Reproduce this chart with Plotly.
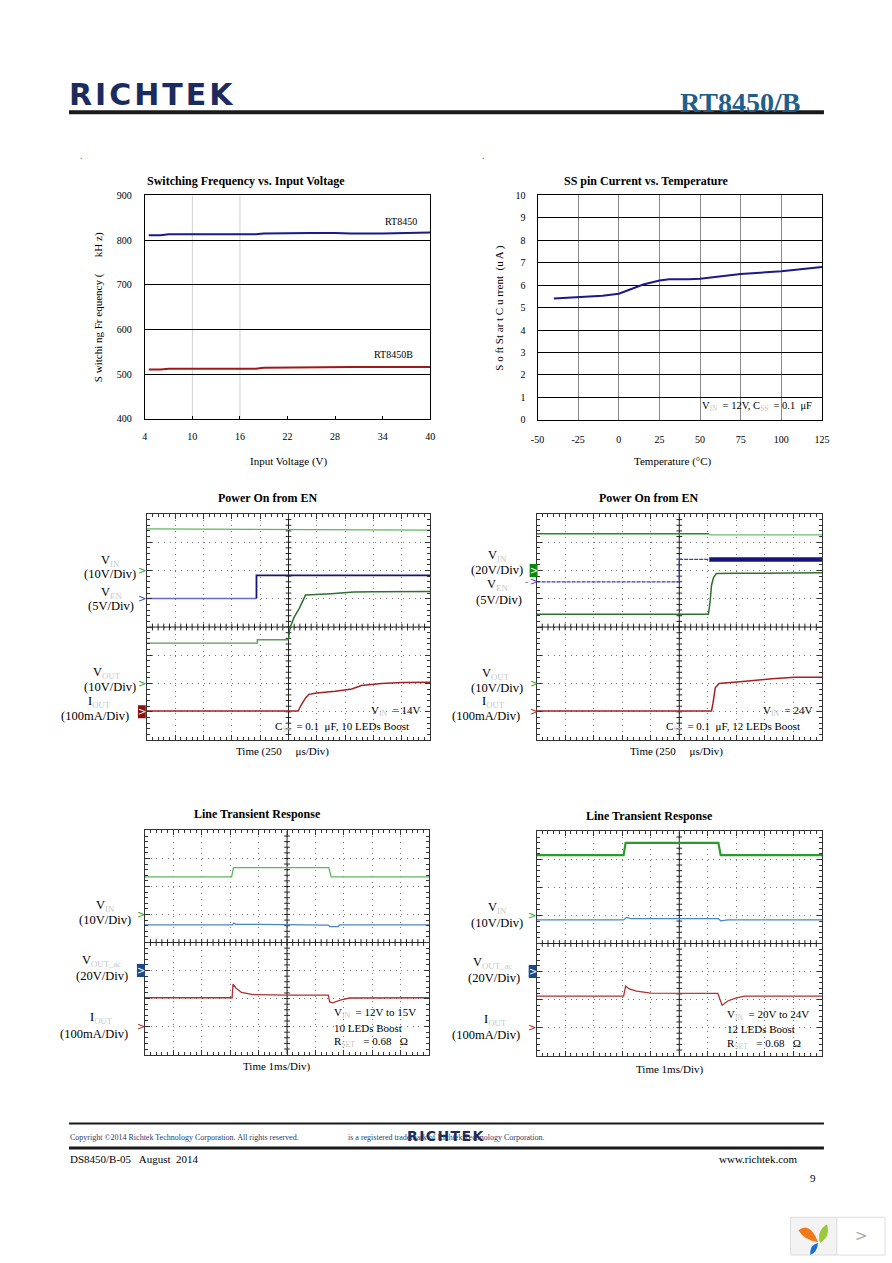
import plotly.graph_objects as go

W, H = 892, 1263
SERIF = "Liberation Serif"

# ---------------- data: Switching Frequency vs Input Voltage ----------------
SF_VIN = [4.5, 6, 7, 10, 13, 16, 18, 19, 22, 25, 28, 30, 34, 37, 40]
SF_RT8450 = [811, 811, 813, 813, 813, 813, 813, 815, 816, 816, 816, 815, 815, 816, 817]
SF_RT8450B = [510, 510, 512, 512, 512, 512, 512, 514, 515, 516, 516, 516, 516, 516, 516]
SF_XTICKS = [4, 10, 16, 22, 28, 34, 40]

# ---------------- data: SS pin current vs temperature ----------------
SS_TEMP = [-40, -25, -10, 0, 7, 15, 25, 31, 43, 50, 75, 100, 125]
SS_CURR = [5.40, 5.47, 5.53, 5.62, 5.80, 6.03, 6.21, 6.26, 6.26, 6.29, 6.50, 6.62, 6.81]
SS_XTICKS = [-50, -25, 0, 25, 50, 75, 100, 125]

# ---------------- scope captures (units: divisions, x 0..10, y 0..8) ----------------
# Scope 1: Power On from EN (VIN = 14V, 10 LEDs)
S1_VIN_T = [0, 5, 10]
S1_VIN = [7.47, 7.45, 7.43]
S1_VEN_PRE_T = [0, 3.87]
S1_VEN_PRE = [5.01, 5.01]
S1_VEN_T = [3.87, 3.87, 10]
S1_VEN = [5.01, 5.83, 5.83]
S1_VOUT_PRE_T = [0, 3.9, 3.9, 5.0]
S1_VOUT_PRE = [3.43, 3.43, 3.55, 3.55]
S1_VOUT_T = [5.0, 5.03, 5.09, 5.2, 5.38, 5.6, 6.5, 7.3, 8.0, 10]
S1_VOUT = [3.55, 3.85, 4.07, 4.35, 4.66, 5.13, 5.18, 5.24, 5.25, 5.26]
S1_IOUT_T = [0, 5.34, 5.45, 5.61, 5.72, 6.0, 6.65, 7.23, 7.57, 8.27, 9.0, 10]
S1_IOUT = [1.03, 1.03, 1.25, 1.5, 1.62, 1.67, 1.73, 1.81, 1.93, 2.0, 2.04, 2.05]

# Scope 2: Power On from EN (VIN = 24V, 12 LEDs)
S2_VIN_PRE_T = [0, 6.05]
S2_VIN_PRE = [7.30, 7.30]
S2_VIN_T = [6.05, 10]
S2_VIN = [7.26, 7.26]
S2_VEN_PRE_T = [0, 5.0, 5.0, 6.05]
S2_VEN_PRE = [5.60, 5.60, 6.39, 6.39]
S2_VEN_T = [6.05, 10]
S2_VEN = [6.39, 6.39]
S2_VOUT_T = [0, 6.02, 6.08, 6.13, 6.2, 6.3, 7.0, 10]
S2_VOUT = [4.45, 4.45, 4.9, 5.48, 5.75, 5.89, 5.90, 5.92]
S2_IOUT_T = [0, 6.13, 6.18, 6.26, 6.39, 6.7, 7.32, 8.24, 9.04, 10]
S2_IOUT = [1.03, 1.03, 1.3, 1.85, 2.0, 2.02, 2.08, 2.17, 2.22, 2.22]

# Scope 3: Line transient, VIN 12V to 15V
S3_VIN_T = [0, 3.05, 3.12, 6.47, 6.55, 10]
S3_VIN = [6.34, 6.34, 6.67, 6.67, 6.34, 6.34]
S3_VOUT_T = [0, 3.08, 3.13, 3.2, 4.0, 5.0, 6.0, 6.45, 6.5, 6.8, 6.85, 10]
S3_VOUT = [4.63, 4.63, 4.69, 4.65, 4.65, 4.64, 4.64, 4.62, 4.57, 4.57, 4.63, 4.63]
S3_IOUT_T = [0, 3.07, 3.1, 3.2, 3.4, 3.8, 5.0, 6.45, 6.5, 6.6, 6.9, 7.2, 10]
S3_IOUT = [2.03, 2.03, 2.51, 2.38, 2.22, 2.14, 2.12, 2.12, 1.88, 1.85, 1.95, 2.02, 2.03]

# Scope 4: Line transient, VIN 20V to 24V
S4_VIN_T = [0, 3.05, 3.12, 6.37, 6.45, 10]
S4_VIN = [7.15, 7.15, 7.59, 7.59, 7.15, 7.15]
S4_VOUT_T = [0, 3.05, 3.15, 3.3, 6.37, 6.45, 6.7, 10]
S4_VOUT = [4.84, 4.84, 4.93, 4.89, 4.89, 4.81, 4.84, 4.84]
S4_IOUT_T = [0, 3.05, 3.12, 3.25, 3.5, 4.0, 6.35, 6.42, 6.5, 6.7, 7.0, 7.3, 10]
S4_IOUT = [2.12, 2.12, 2.48, 2.38, 2.30, 2.23, 2.22, 2.0, 1.8, 1.95, 2.06, 2.12, 2.12]


def px(x):
    return x / W


def py(y):
    return 1 - y / H


def sub(main, s):
    return f"{main}<sub><span style='color:#c8c8c8'>{s}</span></sub>"


fig = go.Figure()
layout = dict(width=W, height=H, margin=dict(l=0, r=0, t=0, b=0),
              paper_bgcolor="white", plot_bgcolor="white", showlegend=False,
              font=dict(family=SERIF, color="black", size=11))
ann = []
shapes = []


def add_text(text, x, y, size=11, xanchor="center", bold=False, color="black",
             angle=0, family=SERIF, yref="paper"):
    ann.append(dict(text=f"<b>{text}</b>" if bold else text, x=px(x),
                    y=py(y) if yref == "paper" else y,
                    xref="paper", yref=yref, showarrow=False, xanchor=xanchor,
                    yanchor="middle", textangle=angle,
                    font=dict(size=size, color=color, family=family)))


def dom(x0, x1, y0, y1):
    return [px(x0), px(x1)], [py(y1), py(y0)]


# ---------------- chart 1 ----------------
dx, dy = dom(140, 430, 192, 417)
layout["xaxis"] = dict(domain=dx, range=[4, 40], tickvals=SF_XTICKS, showgrid=False,
                       showline=True, mirror=True, linecolor="black", linewidth=1,
                       ticks="inside", ticklen=3, tickcolor="black", zeroline=False,
                       tickfont=dict(size=10, family=SERIF), ticklabelstandoff=8,
                       anchor="y")
layout["yaxis"] = dict(domain=dy, range=[400, 900], dtick=100, showgrid=True,
                       gridcolor="black", gridwidth=1, showline=True, mirror=True,
                       linecolor="black", zeroline=False, ticks="",
                       tickfont=dict(size=10, family=SERIF), ticklabelstandoff=10,
                       anchor="x")
for gx in SF_XTICKS[1:3]:
    shapes.append(dict(type="line", xref="x", yref="y domain", x0=gx, x1=gx, y0=0, y1=1,
                       line=dict(color="#d0d0d0", width=1), layer="below"))

# ---------------- chart 2 ----------------
dx, dy = dom(539, 828, 192, 418)
layout["xaxis2"] = dict(domain=dx, range=[-50, 125], tickvals=SS_XTICKS,
                        ticktext=[str(v) for v in SS_XTICKS], showgrid=True,
                        gridcolor="#8a8a8a", showline=True, mirror=True, linecolor="black",
                        zeroline=False, ticks="", tickfont=dict(size=10, family=SERIF),
                        ticklabelstandoff=10, anchor="y2")
layout["yaxis2"] = dict(domain=dy, range=[0, 10], dtick=1, showgrid=True, gridcolor="black",
                        showline=True, mirror=True, linecolor="black", zeroline=False,
                        ticks="", tickfont=dict(size=10, family=SERIF), ticklabelstandoff=9,
                        anchor="x2")

fig.add_trace(go.Scatter(x=SF_VIN, y=SF_RT8450, mode="lines", line=dict(color="#1a1a8c", width=2),
                         xaxis="x", yaxis="y", name="RT8450"))
fig.add_trace(go.Scatter(x=SF_VIN, y=SF_RT8450B, mode="lines", line=dict(color="#a01818", width=2),
                         xaxis="x", yaxis="y", name="RT8450B"))
fig.add_trace(go.Scatter(x=SS_TEMP, y=SS_CURR, mode="lines", line=dict(color="#1a1a8c", width=2),
                         xaxis="x2", yaxis="y2", name="ISS"))

add_text("Switching Frequency vs. Input Voltage", 243, 177, size=12, bold=True)
add_text("S witchi ng Fr equency (\u00a0\u00a0\u00a0\u00a0\u00a0\u00a0kH z)", 93, 305, size=11, angle=-90)
add_text("Input Voltage (V)", 287, 460, size=11)
add_text("RT8450", 400, 218, size=10)
add_text("RT8450B", 393, 352, size=10)

add_text("SS pin Current vs. Temperature", 650, 177, size=12, bold=True)
add_text("S o ft St ar t C u rrent\u00a0\u00a0(u A )", 500, 305, size=11, angle=-90)
add_text("Temperature (°C)", 677, 460, size=11)
add_text(sub("V", "IN") + "\u00a0 = 12V, C" + "<sub><span style='color:#c8c8c8'>SS</span></sub>"
         + "\u00a0 = 0.1\u00a0 μF", 762, 405, size=10.5)

# ---------------- scope axes ----------------
SCOPES = [
    (3, (142, 430, 513, 741)),
    (4, (538, 828, 513, 741)),
    (5, (140, 429, 832, 1058)),
    (6, (538, 828, 833, 1059)),
]
for n, (x0, x1, y0, y1) in SCOPES:
    dx, dy = dom(x0, x1, y0, y1)
    common = dict(showgrid=True, gridcolor="#777", gridwidth=1, griddash="1px,4.7px",
                  showline=True, mirror="allticks", linecolor="#333", linewidth=1,
                  zeroline=False, ticks="inside", ticklen=5, tickcolor="#333",
                  showticklabels=False, dtick=1, tick0=0,
                  minor=dict(ticks="inside", ticklen=3, dtick=0.2, tickcolor="#333",
                             showgrid=False))
    layout[f"xaxis{n}"] = dict(domain=dx, range=[0, 10], anchor=f"y{n}", **common)
    layout[f"yaxis{n}"] = dict(domain=dy, range=[0, 8], anchor=f"x{n}", **common)

    # centre cross with fine ticks
    xs, ys = [5, 5, None, 0, 10, None], [0, 8, None, 4, 4, None]
    for k in range(1, 40):
        xs += [4.9, 5.1, None]
        ys += [k * 0.2, k * 0.2, None]
    for k in range(1, 50):
        xs += [k * 0.2, k * 0.2, None]
        ys += [3.88, 4.12, None]
    fig.add_trace(go.Scatter(x=xs, y=ys, mode="lines", line=dict(color="#222", width=1),
                             xaxis=f"x{n}", yaxis=f"y{n}", hoverinfo="skip"))


def tr(x, y, n, color, width=1.3, dash=None):
    fig.add_trace(go.Scatter(x=x, y=y, mode="lines",
                             line=dict(color=color, width=width, dash=dash),
                             xaxis=f"x{n}", yaxis=f"y{n}", hoverinfo="skip"))


GREEN_L = "#5cb85c"
GREEN_D = "#2f6f2f"
BLUE_L = "#6a6ad0"
NAVY = "#14147a"
RED = "#a82020"
STEEL = "#4a86c5"

tr(S1_VIN_T, S1_VIN, 3, GREEN_L)
tr(S1_VEN_PRE_T, S1_VEN_PRE, 3, BLUE_L)
tr(S1_VEN_T, S1_VEN, 3, NAVY, 1.8)
tr(S1_VOUT_PRE_T, S1_VOUT_PRE, 3, "#5a9a5a")
tr(S1_VOUT_T, S1_VOUT, 3, GREEN_D, 1.5)
tr(S1_IOUT_T, S1_IOUT, 3, RED, 1.5)

tr(S2_VIN_PRE_T, S2_VIN_PRE, 4, "#1f8f1f", 1.6)
tr(S2_VIN_T, S2_VIN, 4, "#6cbf6c", 1.3)
tr(S2_VEN_PRE_T, S2_VEN_PRE, 4, "#3a3ab8", 1.3, "4px,1px")
tr(S2_VEN_T, S2_VEN, 4, NAVY, 4.5)
tr(S2_VOUT_T, S2_VOUT, 4, GREEN_D, 1.5)
tr(S2_IOUT_T, S2_IOUT, 4, RED, 1.5)

tr(S3_VIN_T, S3_VIN, 5, GREEN_L, 1.3)
tr(S3_VOUT_T, S3_VOUT, 5, STEEL, 1.3)
tr(S3_IOUT_T, S3_IOUT, 5, "#b03030", 1.3)

tr(S4_VIN_T, S4_VIN, 6, "#2a9a2a", 2.2)
tr(S4_VOUT_T, S4_VOUT, 6, STEEL, 1.3)
tr(S4_IOUT_T, S4_IOUT, 6, "#b03030", 1.3)


def arrow(x, ydiv, n, color):
    ann.append(dict(text=">", x=px(x), y=ydiv, xref="paper", yref=f"y{n}", showarrow=False,
                    xanchor="center", yanchor="middle",
                    font=dict(size=10, color=color, family="DejaVu Sans")))


def boxmark(x, ydiv, n, fill):
    dy_ = 0.23
    shapes.append(dict(type="rect", xref="paper", yref=f"y{n}", x0=px(x - 4), x1=px(x + 4),
                       y0=ydiv - dy_, y1=ydiv + dy_, fillcolor=fill, line=dict(width=0)))
    ann.append(dict(text=">", x=px(x), y=ydiv, xref="paper", yref=f"y{n}", showarrow=False,
                    xanchor="center", yanchor="middle",
                    font=dict(size=10, color="white", family="DejaVu Sans")))


LS = 12.5  # scope side label size

# scope 1 labels
add_text("Power On from EN", 265, 497, size=12, bold=True)
add_text(sub("V", "IN"), 105, 560, size=LS)
add_text("(10V/Div)", 105, 574, size=LS)
add_text(sub("V", "EN"), 106, 593, size=LS)
add_text("(5V/Div)", 106, 606, size=LS)
add_text(sub("V", "OUT"), 102, 673, size=LS)
add_text("(10V/Div)", 105, 687, size=LS)
add_text(sub("I", "OUT"), 94, 703, size=LS)
add_text("(100mA/Div)", 89, 717, size=LS)
arrow(137, 6, 3, "#2a9a2a")
arrow(137, 5, 3, "#3a3ab8")
arrow(137, 2, 3, "#2a9a2a")
boxmark(137, 1, 3, "#8b1010")
add_text(sub("V", "IN") + "\u00a0 = 14V", 395, 712, size=11)
add_text(sub("C", "SS") + "\u00a0 = 0.1\u00a0 μF, 10 LEDs Boost", 340, 728, size=11)
add_text("Time (250\u00a0\u00a0\u00a0\u00a0 μs/Div)", 280, 752, size=11)

# scope 2 labels
add_text("Power On from EN", 652, 497, size=12, bold=True)
add_text(sub("V", "IN"), 498, 555, size=LS)
add_text("(20V/Div)", 498, 570, size=LS)
add_text(sub("V", "EN"), 498, 585, size=LS)
add_text("(5V/Div)", 500, 600, size=LS)
add_text(sub("V", "OUT"), 497, 674, size=LS)
add_text("(10V/Div)", 498, 688, size=LS)
add_text(sub("I", "OUT"), 494, 703, size=LS)
add_text("(100mA/Div)", 487, 717, size=LS)
boxmark(535, 6, 4, "#0a8a0a")
arrow(535, 5.6, 4, "#3a3ab8")
add_text("-", 528, 582, size=9, color="#3a3ab8")
arrow(535, 2, 4, "#2a9a2a")
arrow(535, 1, 4, "#a82020")
add_text(sub("V", "IN") + "\u00a0 = 24V", 793, 712, size=11)
add_text(sub("C", "SS") + "\u00a0 = 0.1\u00a0 μF, 12 LEDs Boost", 738, 728, size=11)
add_text("Time (250\u00a0\u00a0\u00a0\u00a0 μs/Div)", 680, 752, size=11)

# scope 3 labels
add_text("Line Transient Response", 254, 815, size=12, bold=True)
add_text(sub("V", "IN"), 100, 908, size=LS)
add_text("(10V/Div)", 100, 922, size=LS)
add_text(sub("V", "OUT_ac"), 96, 964, size=LS)
add_text("(20V/Div)", 97, 979, size=LS)
add_text(sub("I", "OUT"), 96, 1021, size=LS)
add_text("(100mA/Div)", 88, 1037, size=LS)
arrow(136, 5, 5, "#2a9a2a")
boxmark(136, 3, 5, "#1a4a8a")
arrow(136, 1, 5, "#a82020")
add_text(sub("V", "IN") + "\u00a0 = 12V to 15V", 330, 1016, size=11, xanchor="left")
add_text("10 LEDs Boost", 330, 1031, size=11, xanchor="left")
add_text(sub("R", "SET") + "\u00a0\u00a0 = 0.68\u00a0\u00a0 Ω", 330, 1045, size=11, xanchor="left")
add_text("Time 1ms/Div)", 274, 1070, size=11)

# scope 4 labels
add_text("Line Transient Response", 653, 817, size=12, bold=True)
add_text(sub("V", "IN"), 498, 910, size=LS)
add_text("(10V/Div)", 498, 925, size=LS)
add_text(sub("V", "OUT_ac"), 493, 966, size=LS)
add_text("(20V/Div)", 495, 981, size=LS)
add_text(sub("I", "OUT"), 496, 1023, size=LS)
add_text("(100mA/Div)", 487, 1038, size=LS)
arrow(533, 5, 6, "#2a9a2a")
boxmark(534, 3, 6, "#1a4a8a")
arrow(533, 1, 6, "#a82020")
add_text(sub("V", "IN") + "\u00a0 = 20V to 24V", 729, 1018, size=11, xanchor="left")
add_text("12 LEDs Boost", 729, 1032, size=11, xanchor="left")
add_text(sub("R", "SET") + "\u00a0\u00a0 = 0.68\u00a0\u00a0 Ω", 729, 1047, size=11, xanchor="left")
add_text("Time 1ms/Div)", 673, 1073, size=11)

# ---------------- header ----------------
shapes.append(dict(type="line", xref="paper", yref="paper", x0=px(63), x1=px(830),
                   y0=py(108), y1=py(108), line=dict(color="#1a1a1a", width=4)))
add_text("R\u200aI\u200aC\u200aH\u200aT\u200aE\u200aK", 61, 90, size=30, xanchor="left", bold=True,
         color="#1b2c5c", family="DejaVu Sans")
add_text("RT8450/B", 808, 98, size=28, xanchor="right", bold=True, color="#1f5f8b")
add_text(".", 75, 152, size=9)
add_text(".", 484, 152, size=9)

# ---------------- footer ----------------
shapes.append(dict(type="line", xref="paper", yref="paper", x0=px(63), x1=px(830),
                   y0=py(1127.5), y1=py(1127.5), line=dict(color="#1a1a1a", width=2)))
shapes.append(dict(type="line", xref="paper", yref="paper", x0=px(63), x1=px(830),
                   y0=py(1152), y1=py(1152), line=dict(color="#1a1a1a", width=3)))
add_text("Copyright ©2014 Richtek Technology Corporation. All rights reserved.", 62, 1142,
         size=8, xanchor="left", color="#2a3a6a")
add_text("is a registered trademark of Richtek Technology Corporation.", 344, 1142,
         size=8, xanchor="left", color="#2a3a6a")
add_text("R\u200aI\u200aC\u200aH\u200aT\u200aE\u200aK", 404, 1140, size=14, xanchor="left", bold=True,
         color="#1b2c5c", family="DejaVu Sans")
add_text("DS8450/B-05\u00a0\u00a0 August\u00a0 2014", 62, 1163, size=11, xanchor="left")
add_text("www.richtek.com", 806, 1163, size=11, xanchor="right")
add_text("9", 824, 1182, size=11, xanchor="right")

# ---------------- corner widget ----------------
shapes.append(dict(type="rect", xref="paper", yref="paper", x0=px(796), x1=px(843),
                   y0=py(1260), y1=py(1222), fillcolor="#f3f3f3", line=dict(color="#dddddd", width=1)))
shapes.append(dict(type="rect", xref="paper", yref="paper", x0=px(843), x1=px(892),
                   y0=py(1260), y1=py(1222), fillcolor="white", line=dict(color="#dddddd", width=1)))


def leaf(pts, color):
    (ax, ay), (cx, cy), (bx, by), (qx, qy) = pts
    p = (f"M {px(ax)} {py(ay)} Q {px(cx)} {py(cy)} {px(bx)} {py(by)} "
         f"Q {px(qx)} {py(qy)} {px(ax)} {py(ay)} Z")
    shapes.append(dict(type="path", xref="paper", yref="paper", path=p, fillcolor=color,
                       line=dict(width=0)))


leaf([(804, 1235), (816, 1226), (824, 1247), (810, 1245)], "#f07a1a")
leaf([(833, 1229), (837, 1241), (826, 1248), (822, 1236)], "#9cc93b")
leaf([(824, 1248), (823, 1258), (816, 1260), (815, 1250)], "#1a6fd0")
add_text("&gt;", 868, 1241, size=15, color="#aaaaaa", family="DejaVu Sans")

layout["annotations"] = ann
layout["shapes"] = shapes
fig.update_layout(**layout)
fig.write_html("out.html", config={"displayModeBar": False},
               post_script="document.body.style.margin='0';document.body.style.overflow='hidden';")
